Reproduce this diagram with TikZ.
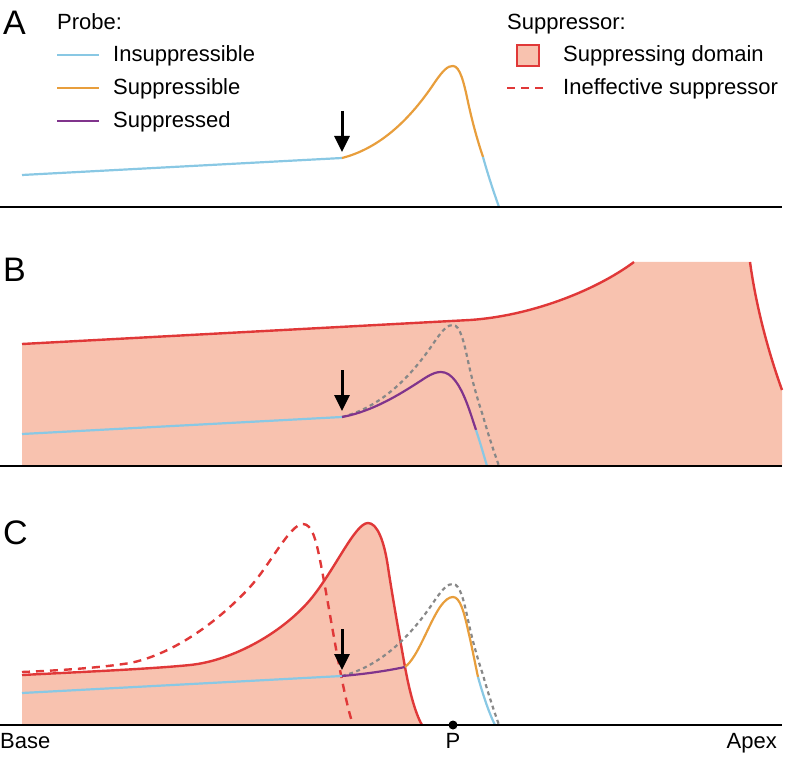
\documentclass[tikz,border=0pt]{standalone}
\usepackage{fontspec}
\setmainfont{Liberation Sans}
\usetikzlibrary{arrows.meta}
\definecolor{supfill}{RGB}{248,194,175}
\definecolor{supred}{RGB}{224,56,56}
\definecolor{insupcol}{RGB}{137,200,228}
\definecolor{supcol}{RGB}{232,158,60}
\definecolor{supdcol}{RGB}{128,52,140}
\definecolor{ghostcol}{RGB}{136,136,136}
\begin{document}
\begin{tikzpicture}[
  x=1pt, y=1pt,
  font=\fontsize{22}{26}\selectfont,
  lbl/.style={inner sep=0pt, anchor=base west},
  letter/.style={lbl, font=\fontsize{34}{38}\selectfont},
  probe/.style={line width=2.2pt},
  insup/.style={probe, draw=insupcol},
  sup/.style={probe, draw=supcol},
  supd/.style={probe, draw=supdcol},
  ghost/.style={probe, draw=ghostcol, dash pattern=on 4pt off 3.5pt},
  supedge/.style={line width=2.4pt, draw=supred},
  ineffective/.style={supedge, dash pattern=on 8pt off 6pt},
  axisline/.style={line width=2.5pt},
  pointer/.style={line width=3pt, -{Triangle[length=16pt, width=15pt]}},
]
\useasboundingbox (0,0) rectangle (786,756);
% probe tuning curve, from the arrow to the axis
\providecommand{\probehead}{(342,49) .. controls (385,60) and (415,95) .. (435,125)
  .. controls (444,138) and (448,141) .. (453,141)
  .. controls (460,141) and (464,124) .. (468,105)
  .. controls (473,82) and (478,65) .. (483,50)}
\providecommand{\probetail}{.. controls (488,32) and (494,14) .. (499,0)}
\providecommand{\sitearrow}{\draw[pointer] (342,96) -- (342,55);}

% legend
\node[lbl] (probe) at (57,726) {Probe:};
\foreach \y/\s/\t in {694/insup/Insuppressible,661/sup/Suppressible,628/supd/Suppressed} {
  \draw[\s] (57,\y+7) -- (99,\y+7);
  \node[lbl] (\s-key) at (113,\y) {\t};
}
\node[lbl] (suppressor) at (507,726) {Suppressor:};
\draw[line width=2pt, draw=supred, fill=supfill] (517,690) rectangle (539,711);
\node[lbl] (domain-key) at (563,694) {Suppressing domain};
\draw[ineffective] (507,668) -- (545,668);
\node[lbl] (ineff-key) at (563,661) {Ineffective suppressor};

% A
\node[letter] (A) at (3,721) {A};
\begin{scope}[shift={(0,549)}]
  \draw[insup] (22,32) -- (342,49);
  \draw[sup] \probehead;
  \draw[insup] (483,50) \probetail;
  \sitearrow
  \draw[axisline] (0,0) -- (782,0);
\end{scope}

% B
\node[letter] (B) at (3,475) {B};
\begin{scope}[shift={(0,290)}]
  \fill[supfill] (22,0) -- (22,122) -- (470,146) .. controls (530,150) and (595,175) .. (634,204)
    -- (750,204) .. controls (756,160) and (768,115) .. (782,76) -- (782,0) -- cycle;
  \draw[supedge] (22,122) -- (470,146) .. controls (530,150) and (595,175) .. (634,204);
  \draw[supedge] (750,204) .. controls (756,160) and (768,115) .. (782,76);
  \draw[ghost] \probehead \probetail;
  \draw[insup] (22,32) -- (342,49);
  \draw[supd] (342,49) .. controls (375,55) and (405,75) .. (425,88)
    .. controls (433,93) and (437,94) .. (441,94)
    .. controls (452,94) and (460,80) .. (466,65)
    .. controls (470,55) and (473,45) .. (476,36);
  \draw[insup] (476,36) .. controls (480,24) and (484,10) .. (487,0);
  \sitearrow
  \draw[axisline] (0,0) -- (782,0);
\end{scope}

% C
\node[letter] (C) at (3,212) {C};
\begin{scope}[shift={(0,31)}]
  \providecommand{\solidsup}{.. controls (80,53) and (150,56) .. (190,60)
    .. controls (230,64) and (280,90) .. (310,125)
    .. controls (335,155) and (355,202) .. (368,202)
    .. controls (377,202) and (384,185) .. (388,158)
    .. controls (392,131) and (401,80) .. (405,58)
    .. controls (409,36) and (415,12) .. (422,0)}
  \fill[supfill] (22,0) -- (22,50) \solidsup -- cycle;
  \draw[supedge] (22,50) \solidsup;
  \draw[ineffective] (22,53) .. controls (70,55) and (105,58) .. (130,62)
    .. controls (170,70) and (215,100) .. (250,138)
    .. controls (270,160) and (290,201) .. (303,201)
    .. controls (312,201) and (316,185) .. (320,165)
    .. controls (326,135) and (334,85) .. (341,50)
    .. controls (345,30) and (349,12) .. (353,0);
  \draw[ghost] \probehead \probetail;
  \draw[insup] (22,32) -- (342,49);
  \draw[supd] (342,49) .. controls (365,51) and (386,54) .. (405,58);
  \draw[sup] (405,58) .. controls (418,68) and (428,100) .. (440,118)
    .. controls (445,125) and (449,128) .. (453,128)
    .. controls (460,128) and (464,113) .. (468,95)
    .. controls (472,78) and (475,62) .. (478,48);
  \draw[insup] (478,48) .. controls (483,30) and (489,12) .. (495,0);
  \sitearrow
  \draw[axisline] (0,0) -- (782,0);
  \fill (453,0) circle (4.5);
\end{scope}

% cochlear axis
\node[lbl] (base) at (0,8) {Base};
\node[inner sep=0pt, anchor=base] (p) at (453,8) {P};
\node[inner sep=0pt, anchor=base east] (apex) at (777,8) {Apex};
\end{tikzpicture}
\end{document}
